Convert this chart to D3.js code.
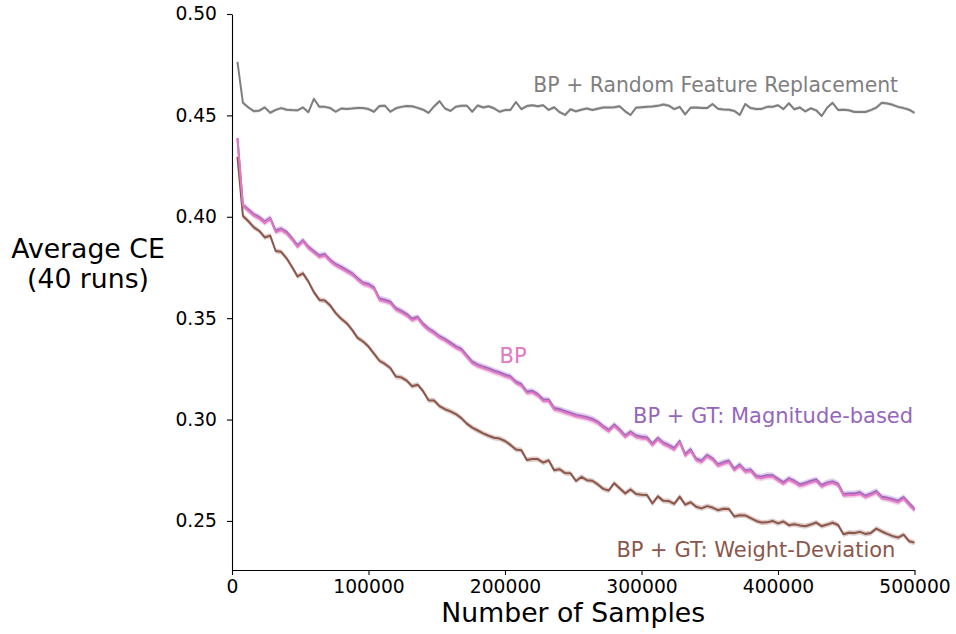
<!DOCTYPE html>
<html>
<head>
<meta charset="utf-8">
<script src="https://cdn.jsdelivr.net/npm/d3@7"></script>
<style>
  body { margin: 0; background: #fff; }
  svg { display: block; font-family: "DejaVu Sans", sans-serif; }
  .axis path, .axis line { stroke: #000; stroke-width: 1.1; }
  .axis text { fill: #000; font-size: 18.7px; font-family: "DejaVu Sans", sans-serif; }
</style>
</head>
<body>
<div id="chart"></div>
<script>
// x grid: a point every 4000 samples
const sampleSteps = d3.range(4000, 500001, 4000);

const bpRandom = [
  0.4764, 0.4562, 0.4539, 0.4521, 0.4523, 0.4539, 0.4513, 0.4527, 0.4536, 0.4528,
  0.4526, 0.4525, 0.4539, 0.4516, 0.4582, 0.4542, 0.4542, 0.4536, 0.4518, 0.4534,
  0.4532, 0.4534, 0.4537, 0.4536, 0.4531, 0.4518, 0.4546, 0.4548, 0.4518, 0.4535,
  0.4542, 0.4546, 0.4545, 0.4537, 0.4528, 0.4512, 0.4544, 0.4570, 0.4534, 0.4522,
  0.4543, 0.4547, 0.4548, 0.4518, 0.4549, 0.4539, 0.4545, 0.4535, 0.4518, 0.4526,
  0.4527, 0.4566, 0.4531, 0.4546, 0.4550, 0.4545, 0.4550, 0.4527, 0.4540, 0.4516,
  0.4502, 0.4530, 0.4520, 0.4528, 0.4534, 0.4527, 0.4533, 0.4539, 0.4539, 0.4540,
  0.4545, 0.4520, 0.4502, 0.4538, 0.4540, 0.4542, 0.4544, 0.4547, 0.4554, 0.4548,
  0.4531, 0.4542, 0.4505, 0.4538, 0.4539, 0.4537, 0.4536, 0.4556, 0.4533, 0.4529,
  0.4528, 0.4522, 0.4502, 0.4556, 0.4536, 0.4531, 0.4532, 0.4542, 0.4542, 0.4550,
  0.4531, 0.4560, 0.4530, 0.4539, 0.4520, 0.4535, 0.4525, 0.4497, 0.4538, 0.4562,
  0.4527, 0.4528, 0.4525, 0.4517, 0.4517, 0.4517, 0.4526, 0.4538, 0.4562, 0.4559,
  0.4552, 0.4542, 0.4536, 0.4528, 0.4512
];

const bpPlain = [
  0.4386, 0.4054, 0.4030, 0.4006, 0.3992, 0.3970, 0.3990, 0.3925, 0.3935, 0.3918,
  0.3888, 0.3852, 0.3879, 0.3845, 0.3824, 0.3802, 0.3809, 0.3780, 0.3760, 0.3746,
  0.3730, 0.3715, 0.3690, 0.3668, 0.3661, 0.3645, 0.3590, 0.3583, 0.3574, 0.3542,
  0.3529, 0.3513, 0.3490, 0.3500, 0.3465, 0.3442, 0.3425, 0.3404, 0.3390, 0.3372,
  0.3354, 0.3341, 0.3309, 0.3278, 0.3264, 0.3254, 0.3245, 0.3234, 0.3225, 0.3214,
  0.3206, 0.3180, 0.3167, 0.3131, 0.3134, 0.3118, 0.3092, 0.3091, 0.3050, 0.3044,
  0.3034, 0.3026, 0.3016, 0.3011, 0.3005, 0.2996, 0.2982, 0.2960, 0.2942, 0.2968,
  0.2944, 0.2914, 0.2933, 0.2914, 0.2908, 0.2905, 0.2874, 0.2902, 0.2879, 0.2867,
  0.2852, 0.2887, 0.2822, 0.2846, 0.2800, 0.2790, 0.2818, 0.2802, 0.2772, 0.2782,
  0.2790, 0.2750, 0.2771, 0.2742, 0.2746, 0.2715, 0.2711, 0.2718, 0.2718, 0.2700,
  0.2683, 0.2703, 0.2690, 0.2673, 0.2680, 0.2690, 0.2697, 0.2669, 0.2682, 0.2688,
  0.2676, 0.2625, 0.2628, 0.2628, 0.2634, 0.2617, 0.2628, 0.2640, 0.2612, 0.2607,
  0.2600, 0.2592, 0.2610, 0.2580, 0.2552
];

const bpMagnitude = [
  0.4388, 0.4058, 0.4036, 0.4012, 0.3998, 0.3976, 0.3994, 0.3932, 0.3941, 0.3925,
  0.3894, 0.3859, 0.3884, 0.3852, 0.3830, 0.3809, 0.3815, 0.3787, 0.3766, 0.3753,
  0.3737, 0.3721, 0.3697, 0.3675, 0.3668, 0.3652, 0.3597, 0.3590, 0.3581, 0.3549,
  0.3536, 0.3520, 0.3497, 0.3506, 0.3472, 0.3449, 0.3432, 0.3411, 0.3397, 0.3379,
  0.3361, 0.3348, 0.3316, 0.3285, 0.3271, 0.3261, 0.3252, 0.3241, 0.3232, 0.3221,
  0.3213, 0.3187, 0.3174, 0.3138, 0.3141, 0.3125, 0.3099, 0.3098, 0.3057, 0.3051,
  0.3041, 0.3033, 0.3023, 0.3018, 0.3012, 0.3003, 0.2989, 0.2967, 0.2949, 0.2975,
  0.2951, 0.2921, 0.2940, 0.2921, 0.2915, 0.2912, 0.2881, 0.2909, 0.2886, 0.2874,
  0.2859, 0.2894, 0.2829, 0.2853, 0.2807, 0.2797, 0.2825, 0.2809, 0.2779, 0.2789,
  0.2797, 0.2757, 0.2778, 0.2749, 0.2753, 0.2722, 0.2718, 0.2725, 0.2725, 0.2707,
  0.2690, 0.2710, 0.2697, 0.2680, 0.2687, 0.2697, 0.2704, 0.2676, 0.2689, 0.2695,
  0.2683, 0.2632, 0.2635, 0.2635, 0.2641, 0.2624, 0.2635, 0.2647, 0.2619, 0.2614,
  0.2607, 0.2599, 0.2617, 0.2587, 0.2559
];

const bpWeightDev = [
  0.4295, 0.4004, 0.3978, 0.3948, 0.3930, 0.3898, 0.3907, 0.3831, 0.3827, 0.3795,
  0.3752, 0.3706, 0.3721, 0.3680, 0.3628, 0.3590, 0.3587, 0.3562, 0.3525, 0.3497,
  0.3475, 0.3442, 0.3403, 0.3385, 0.3360, 0.3325, 0.3290, 0.3274, 0.3254, 0.3212,
  0.3208, 0.3192, 0.3164, 0.3172, 0.3140, 0.3095, 0.3094, 0.3066, 0.3051, 0.3040,
  0.3027, 0.3007, 0.2980, 0.2960, 0.2946, 0.2932, 0.2920, 0.2910, 0.2906, 0.2894,
  0.2875, 0.2852, 0.2849, 0.2801, 0.2805, 0.2805, 0.2788, 0.2799, 0.2750, 0.2755,
  0.2736, 0.2735, 0.2697, 0.2717, 0.2701, 0.2698, 0.2680, 0.2658, 0.2650, 0.2686,
  0.2661, 0.2636, 0.2655, 0.2633, 0.2629, 0.2628, 0.2586, 0.2621, 0.2599, 0.2598,
  0.2584, 0.2620, 0.2580, 0.2592, 0.2570, 0.2562, 0.2573, 0.2566, 0.2553, 0.2560,
  0.2559, 0.2522, 0.2528, 0.2527, 0.2514, 0.2500, 0.2492, 0.2493, 0.2500, 0.2488,
  0.2497, 0.2479, 0.2484, 0.2478, 0.2474, 0.2482, 0.2492, 0.2474, 0.2482, 0.2491,
  0.2480, 0.2434, 0.2442, 0.2440, 0.2446, 0.2436, 0.2440, 0.2462, 0.2448, 0.2436,
  0.2425, 0.2418, 0.2432, 0.2400, 0.2393
];

// spread of the shaded band around each mean (half width)
const bandHalfWidth = [0.0008, 0.0015, 0.0015, 0.0013];

const seriesNames = [
  'BP + Random Feature Replacement',
  'BP',
  'BP + GT: Magnitude-based',
  'BP + GT: Weight-Deviation'
];
const seriesValues = [bpRandom, bpPlain, bpMagnitude, bpWeightDev];
const seriesColors = ['#7f7f7f', '#e377c2', '#9467bd', '#8c564b'];
// drawing order: gray, brown, purple, pink on top
const drawOrder = [0, 3, 2, 1];

const xTicks = [0, 100000, 200000, 300000, 400000, 500000];
const yTicks = [0.25, 0.30, 0.35, 0.40, 0.45, 0.50];

// label anchor points in data space
const labelX = [488000, 196000, 499000, 486000];
const labelY = [0.4616, 0.3280, 0.2985, 0.2324];
const labelAnchor = ['end', 'start', 'end', 'end'];
const labelSize = ['20.4px', '21px', '21px', '21px'];

const width = 956, height = 634;
const margin = { top: 14, right: 41.5, bottom: 64, left: 232 };
const innerW = width - margin.left - margin.right;
const innerH = height - margin.top - margin.bottom;

const svg = d3.select('#chart').append('svg')
  .attr('width', width)
  .attr('height', height);

const g = svg.append('g')
  .attr('transform', `translate(${margin.left},${margin.top})`);

const x = d3.scaleLinear().domain([0, 500000]).range([0, innerW]);
// 0.50 sits at the top of the spine, axis bottom a little under 0.23
const y = d3.scaleLinear().domain([0.2258, 0.5]).range([innerH, 0]);

// bands first, then lines
const layers = drawOrder.map(s => {
  const vals = seriesValues[s];
  return { s, rows: sampleSteps.map((xv, i) => ({ x: xv, v: vals[i] })) };
});

layers.forEach(({ s, rows }) => {
  const hw = bandHalfWidth[s];
  const area = d3.area()
    .x(d => x(d.x))
    .y0(d => y(d.v - hw))
    .y1(d => y(d.v + hw));

  g.append('path')
    .datum(rows)
    .attr('d', area)
    .attr('fill', seriesColors[s])
    .attr('opacity', 0.3);
});

const line = d3.line()
  .x(d => x(d.x))
  .y(d => y(d.v));

layers.forEach(({ s, rows }) => {
  g.append('path')
    .datum(rows)
    .attr('d', line)
    .attr('fill', 'none')
    .attr('stroke', seriesColors[s])
    .attr('stroke-width', 2)
    .attr('stroke-linejoin', 'round');
});

// axes
const xAxis = d3.axisBottom(x)
  .tickValues(xTicks)
  .tickFormat(d3.format('d'))
  .tickSize(5)
  .tickPadding(5)
  .tickSizeOuter(0);

const yAxis = d3.axisLeft(y)
  .tickValues(yTicks)
  .tickFormat(d3.format('.2f'))
  .tickSize(5)
  .tickPadding(10)
  .tickSizeOuter(0);

g.append('g')
  .attr('class', 'axis')
  .attr('transform', `translate(0,${innerH})`)
  .call(xAxis);

g.append('g')
  .attr('class', 'axis')
  .call(yAxis);

// series labels
seriesNames.forEach((name, s) => {
  g.append('text')
    .attr('x', x(labelX[s]))
    .attr('y', y(labelY[s]))
    .attr('text-anchor', labelAnchor[s])
    .attr('fill', seriesColors[s])
    .style('font-size', labelSize[s])
    .text(name);
});

// axis titles
svg.append('text')
  .attr('x', margin.left + innerW / 2)
  .attr('y', 622)
  .attr('text-anchor', 'middle')
  .style('font-size', '26.7px')
  .attr('fill', '#000')
  .text('Number of Samples');

const yTitle = svg.append('text')
  .attr('text-anchor', 'middle')
  .style('font-size', '26.7px')
  .attr('fill', '#000');
yTitle.append('tspan').attr('x', 88).attr('y', 258).text('Average CE');
yTitle.append('tspan').attr('x', 88).attr('y', 288).text('(40 runs)');
</script>
</body>
</html>
